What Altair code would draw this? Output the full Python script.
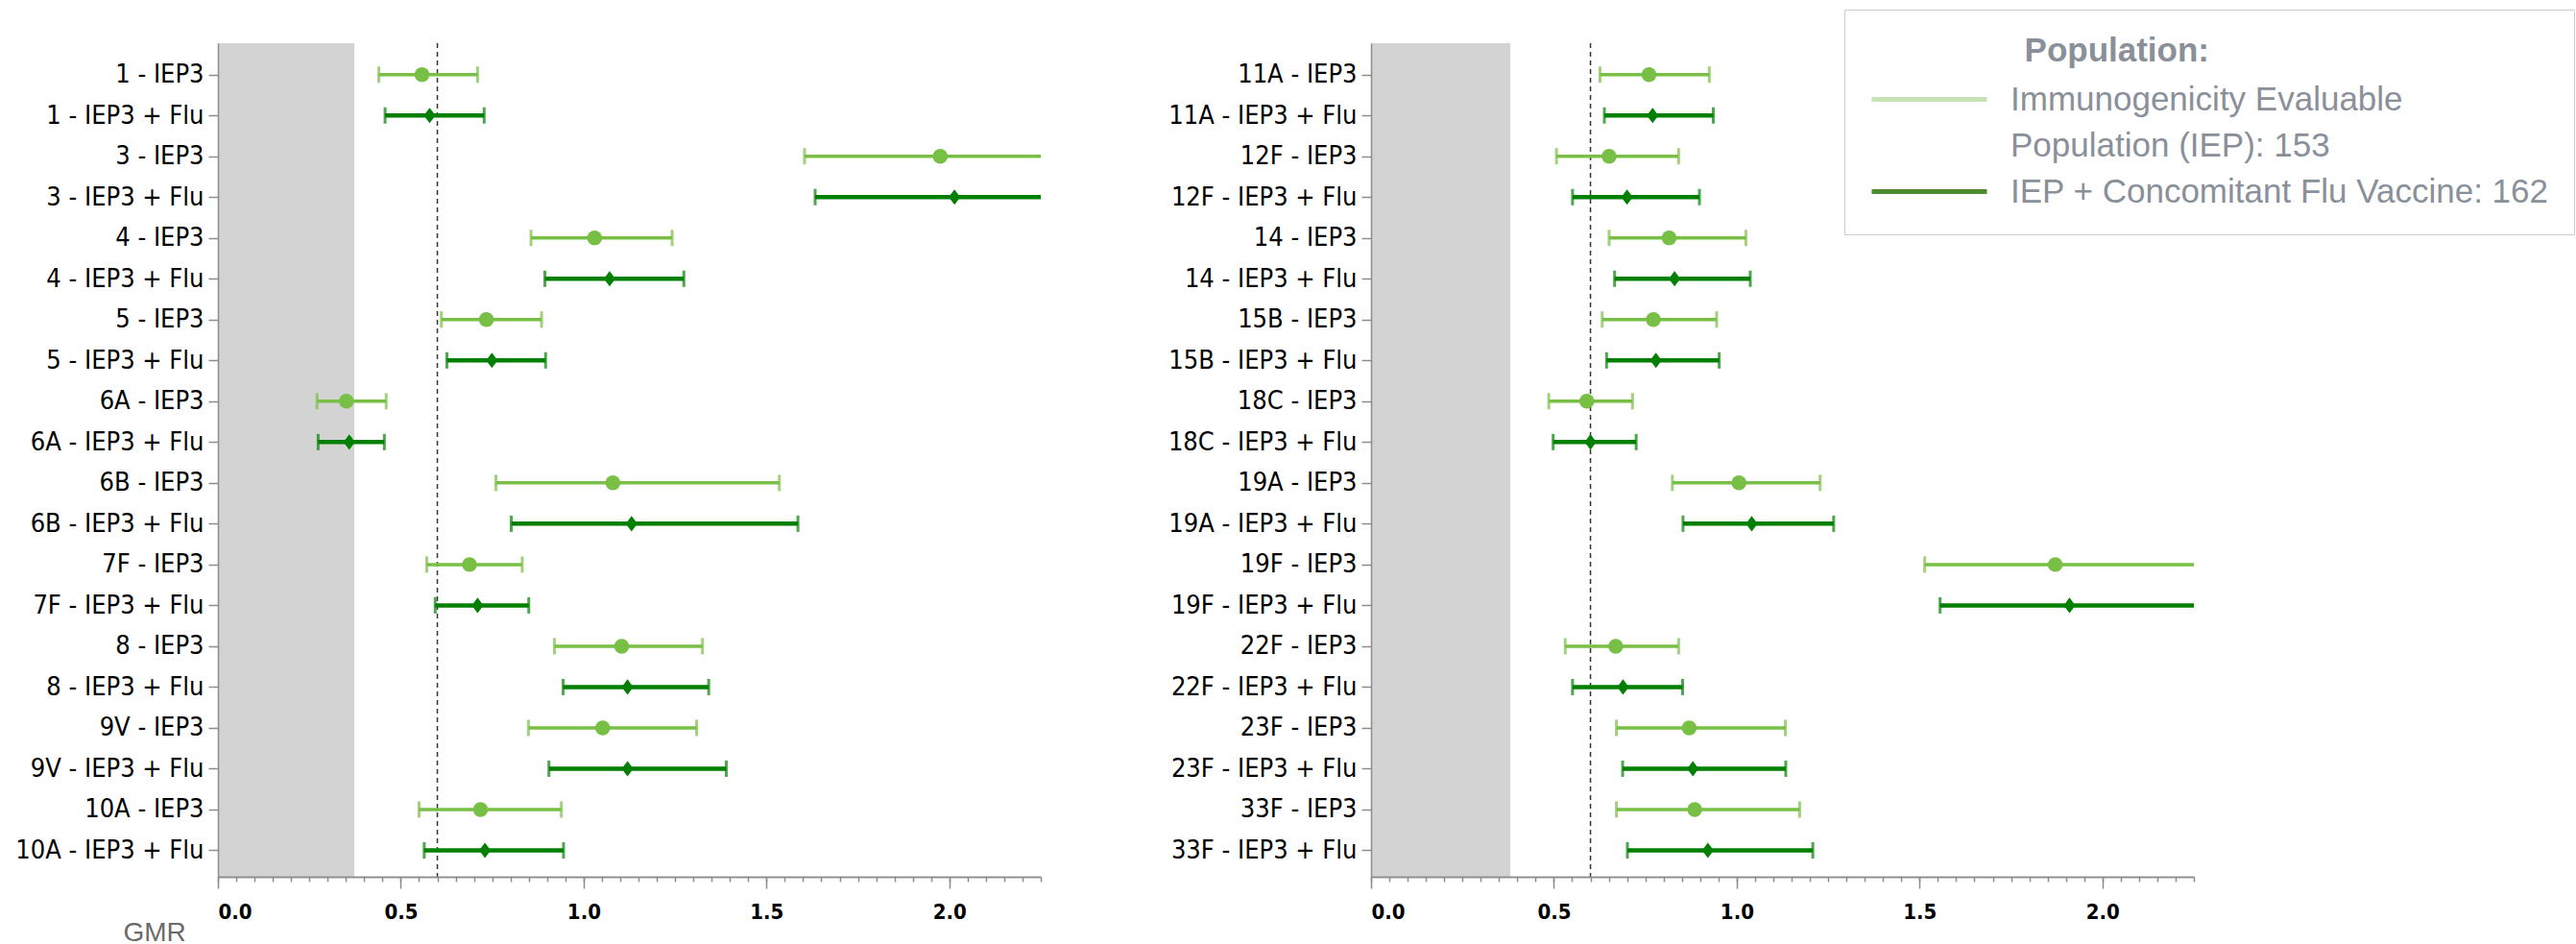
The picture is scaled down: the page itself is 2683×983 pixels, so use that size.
import altair as alt
import pandas as pd

# ---------------- data ----------------
left_serotypes = ["1", "3", "4", "5", "6A", "6B", "7F", "8", "9V", "10A"]
right_serotypes = ["11A", "12F", "14", "15B", "18C", "19A", "19F", "22F", "23F", "33F"]

# IEP3 (light green, circles)
left_iep_gmr = [0.558, 1.975, 1.030, 0.734, 0.351, 1.080, 0.688, 1.104, 1.052, 0.718]
left_iep_lo = [0.440, 1.604, 0.856, 0.611, 0.271, 0.760, 0.571, 0.920, 0.849, 0.550]
left_iep_hi = [0.710, 2.430, 1.242, 0.885, 0.460, 1.535, 0.832, 1.325, 1.309, 0.939]
# IEP3 + Flu (dark green, diamonds)
left_flu_gmr = [0.579, 2.014, 1.071, 0.749, 0.359, 1.131, 0.710, 1.120, 1.120, 0.730]
left_flu_lo = [0.457, 1.633, 0.894, 0.626, 0.274, 0.802, 0.594, 0.944, 0.905, 0.564]
left_flu_hi = [0.728, 2.480, 1.274, 0.896, 0.455, 1.586, 0.850, 1.342, 1.390, 0.945]

right_iep_gmr = [0.760, 0.651, 0.815, 0.772, 0.590, 1.006, 1.871, 0.669, 0.870, 0.885]
right_iep_lo = [0.626, 0.507, 0.651, 0.632, 0.486, 0.824, 1.514, 0.531, 0.671, 0.671]
right_iep_hi = [0.925, 0.841, 1.025, 0.945, 0.715, 1.228, 2.310, 0.841, 1.133, 1.172]
right_flu_gmr = [0.770, 0.700, 0.830, 0.779, 0.600, 1.041, 1.910, 0.689, 0.880, 0.921]
right_flu_lo = [0.638, 0.551, 0.666, 0.644, 0.498, 0.853, 1.556, 0.551, 0.688, 0.701]
right_flu_hi = [0.936, 0.898, 1.037, 0.952, 0.725, 1.265, 2.340, 0.852, 1.134, 1.208]

shade_end_left = 0.373
shade_end_right = 0.381
threshold = 0.6

groups = ["IEP3", "IEP3 + Flu"]
legend_title = "Population:"
legend_iep_lines = ["Immunogenicity Evaluable", "Population (IEP): 153"]
legend_flu = "IEP + Concomitant Flu Vaccine: 162"
legend_names = [" ".join(legend_iep_lines), legend_flu]

x_major = [0.0, 0.5, 1.0, 1.5, 2.0]
x_minor = [round(i * 0.05, 2) for i in range(46)]

# ---------------- styles ----------------
MARK_COLORS = ["#77BF45", "#008000"]
LEGEND_COLORS = ["#C5E3B5", "#4C8C2E"]
AXIS_GRAY = "#8C8C8C"
NARROW = "DejaVu Sans Condensed, Liberation Sans Narrow, sans-serif"
SANS = "Liberation Sans, Arial, sans-serif"
LEG_TEXT = "#8A9099"
DIAMOND = "M0,-1.15L0.86,0L0,1.15L-0.86,0Z"
LEGEND_LINE = "M-4,0L4,0"


def build_df(serotypes, iep_gmr, iep_lo, iep_hi, flu_gmr, flu_lo, flu_hi):
    rows = []
    for i, s in enumerate(serotypes):
        rows.append({"row": f"{s} - {groups[0]}", "grp": groups[0], "series": legend_names[0],
                     "gmr": iep_gmr[i], "lo": iep_lo[i], "hi": iep_hi[i]})
        rows.append({"row": f"{s} - {groups[1]}", "grp": groups[1], "series": legend_names[1],
                     "gmr": flu_gmr[i], "lo": flu_lo[i], "hi": flu_hi[i]})
    return pd.DataFrame(rows)


def make_panel(df, shade_end, with_title, with_legend):
    order = list(df["row"])
    x_scale = alt.Scale(domain=[0, 2.25], nice=False, zero=False)
    y_axis = alt.Axis(title=None, labelFont=NARROW, labelFontSize=27,
                      labelColor="#000000", labelLimit=400, tickSize=10, tickWidth=1.5,
                      tickColor=AXIS_GRAY, domainColor=AXIS_GRAY,
                      domainWidth=1.5, labelPadding=5, minExtent=227,
                      grid=False, zindex=1)
    y = alt.Y("row:N", sort=order,
              scale=alt.Scale(type="point", padding=0.708, align=0.543),
              axis=y_axis)

    major_kw = dict(orient="bottom", values=x_major, format=".1f", labelFont=NARROW,
                    labelFontWeight="bold", labelFontSize=22,
                    labelColor="#000000", tickSize=12, tickWidth=1.5,
                    tickColor=AXIS_GRAY, domainColor=AXIS_GRAY,
                    domainWidth=1.5, labelPadding=14, grid=False, zindex=1)
    if with_title:
        major_axis = alt.Axis(title="GMR", titleFont=SANS, titleFontSize=28,
                              titleFontWeight="normal", titleColor="#6A6A6A",
                              titleX=-99, titleY=58, titleAlign="left",
                              titleBaseline="middle", **major_kw)
    else:
        major_axis = alt.Axis(title=None, **major_kw)
    minor_axis = alt.Axis(orient="bottom", title=None, values=x_minor, labels=False,
                          tickSize=5, tickWidth=1.5, tickColor=AXIS_GRAY,
                          domainColor=AXIS_GRAY, domainWidth=1.5,
                          grid=False, zindex=1)

    color = alt.Color("grp:N", scale=alt.Scale(domain=groups, range=MARK_COLORS),
                      legend=None)

    shade_df = pd.DataFrame({"start": [0.0], "end": [shade_end]})
    shade = alt.Chart(shade_df).mark_rect(color="#D3D3D3").encode(
        x=alt.X("start:Q", scale=x_scale, axis=minor_axis), x2="end:Q")

    thr_df = pd.DataFrame({"t": [threshold]})
    thr = alt.Chart(thr_df).mark_rule(color="#333333", strokeWidth=1.5,
                                      strokeDash=[5, 4]).encode(
        x=alt.X("t:Q", scale=x_scale, axis=None))

    base = alt.Chart(df)
    bars = base.mark_rule(clip=True).encode(
        x=alt.X("lo:Q", scale=x_scale, axis=major_axis), x2="hi:Q", y=y,
        color=color,
        strokeWidth=alt.StrokeWidth("grp:N",
                                    scale=alt.Scale(domain=groups, range=[3.5, 4.5]),
                                    legend=None))
    caps = base.transform_fold(["lo", "hi"], as_=["end", "val"]).mark_tick(
        clip=True, thickness=3, size=17).encode(
        x=alt.X("val:Q", scale=x_scale, axis=None), y=y, color=color)
    pts = base.mark_point(filled=True, opacity=1, clip=True).encode(
        x=alt.X("gmr:Q", scale=x_scale, axis=None), y=y, color=color,
        shape=alt.Shape("grp:N", scale=alt.Scale(domain=groups, range=["circle", DIAMOND]),
                        legend=None),
        size=alt.Size("grp:N", scale=alt.Scale(domain=groups, range=[240, 196]),
                      legend=None))
    layers = [shade, thr, bars, caps, pts]

    if with_legend:
        label_expr = ("datum.label == '" + legend_names[0] + "' ? ['" + legend_iep_lines[0]
                      + "', '" + legend_iep_lines[1] + "'] : datum.label")
        legend = alt.Legend(title=legend_title, orient="none", legendX=1694,
                            legendY=-35, direction="vertical",
                            symbolType=LEGEND_LINE, symbolSize=900,
                            symbolOffset=45, symbolStrokeWidth=5,
                            labelExpr=label_expr,
                            labelFont=SANS, labelFontSize=35, labelColor=LEG_TEXT,
                            labelLimit=1000, labelOffset=67,
                            titleFont=SANS, titleFontSize=35, titleFontWeight="bold",
                            titleColor=LEG_TEXT, titleLimit=1000,
                            titleAnchor="middle", titleAlign="right",
                            titlePadding=15, rowPadding=12, padding=26,
                            strokeColor="#CCCCCC", fillColor="#FFFFFF")
        leg = base.transform_filter("false").mark_rule(strokeWidth=5).encode(
            x=alt.X("lo:Q", scale=x_scale, axis=None), y=y,
            stroke=alt.Stroke("series:N",
                              scale=alt.Scale(domain=legend_names, range=LEGEND_COLORS),
                              legend=legend))
        layers.append(leg)

    return alt.layer(*layers).properties(width=857, height=868).resolve_axis(x="independent")


left_df = build_df(left_serotypes, left_iep_gmr, left_iep_lo, left_iep_hi,
                   left_flu_gmr, left_flu_lo, left_flu_hi)
right_df = build_df(right_serotypes, right_iep_gmr, right_iep_lo, right_iep_hi,
                    right_flu_gmr, right_flu_lo, right_flu_hi)

left = make_panel(left_df, shade_end_left, True, False)
right = make_panel(right_df, shade_end_right, False, True)

chart = alt.hconcat(left, right, spacing=344, bounds="flush").properties(
    padding={"left": 0, "top": 9, "right": 0, "bottom": 0},
    background="#FFFFFF",
).configure(style={"guide-label": {"lineHeight": 48}}).configure_view(stroke=None)

chart.save("out.html", embed_options={"renderer": "svg", "actions": False})
